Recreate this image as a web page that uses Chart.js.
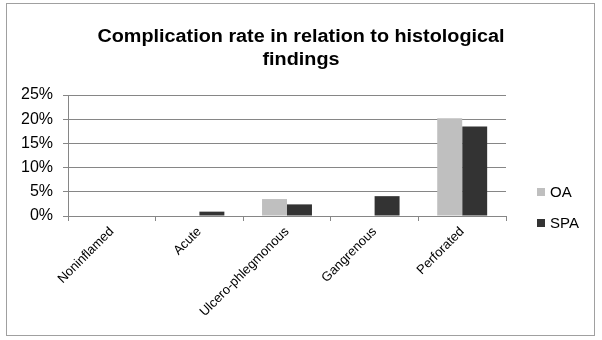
<!DOCTYPE html>
<html>
<head>
<meta charset="utf-8">
<script src="https://cdn.jsdelivr.net/npm/chart.js@4/dist/chart.umd.min.js"></script>
<style>
  html, body { margin: 0; padding: 0; background: #ffffff; }
  #wrap { width: 602px; height: 340px; }
</style>
</head>
<body>
<div id="wrap"><canvas id="c" width="602" height="340"></canvas></div>
<script>
// Histological categories and complication rates (%)
const categories = ['Noninflamed', 'Acute', 'Ulcero-phlegmonous', 'Gangrenous', 'Perforated'];
const oaRates = [0, 0, 3.5, 0, 20.2];
const spaRates = [0, 0.9, 2.4, 4.1, 18.5];
const seriesNames = ['OA', 'SPA'];
const titleLines = ['Complication rate in relation to histological', 'findings'];
const yTicks = [0, 5, 10, 15, 20, 25];

const FONT = '"Liberation Sans", Arial, sans-serif';

// Frame around the whole chart plus the two-line heading
const framePlugin = {
  id: 'frame',
  beforeDraw(chart) {
    const ctx = chart.ctx;
    ctx.save();
    ctx.fillStyle = '#ffffff';
    ctx.fillRect(0, 0, chart.width, chart.height);
    ctx.strokeStyle = '#a0a0a0';
    ctx.lineWidth = 1;
    ctx.strokeRect(6.5, 3.5, 588, 332);
    ctx.restore();
  },
  afterDraw(chart) {
    const ctx = chart.ctx;
    ctx.save();
    ctx.fillStyle = '#000000';
    ctx.font = 'bold 18px ' + FONT;
    ctx.textAlign = 'center';
    ctx.textBaseline = 'middle';
    const ys = [37, 60];
    titleLines.forEach((line, i) => {
      ctx.save();
      ctx.translate(301, ys[i]);
      ctx.scale(1.1, 1);
      ctx.fillText(line, 0, 0);
      ctx.restore();
    });
    ctx.restore();
  }
};

// Legend drawn to the right of the plot
const legendPlugin = {
  id: 'sideLegend',
  afterDraw(chart) {
    const ctx = chart.ctx;
    ctx.save();
    ctx.font = '15px ' + FONT;
    ctx.textBaseline = 'middle';
    ctx.textAlign = 'left';
    const ys = [192, 223];
    chart.data.datasets.forEach((ds, i) => {
      ctx.fillStyle = ds.backgroundColor;
      ctx.fillRect(537, ys[i] - 4, 8, 8);
      ctx.fillStyle = '#000000';
      ctx.fillText(ds.label, 550, ys[i] + 0.5);
    });
    ctx.restore();
  }
};

new Chart(document.getElementById('c'), {
  type: 'bar',
  data: {
    labels: categories,
    datasets: [
      { label: seriesNames[0], data: oaRates, backgroundColor: '#bfbfbf', borderWidth: 0,
        categoryPercentage: 0.57, barPercentage: 1.0 },
      { label: seriesNames[1], data: spaRates, backgroundColor: '#333333', borderWidth: 0,
        categoryPercentage: 0.57, barPercentage: 1.0 }
    ]
  },
  options: {
    responsive: false,
    animation: false,
    devicePixelRatio: 1,
    layout: { padding: { top: 95, right: 96, bottom: 0, left: 0 } },
    plugins: {
      legend: { display: false },
      title: { display: false },
      tooltip: { enabled: false }
    },
    scales: {
      x: {
        afterFit(scale) { scale.height = 124; },
        grid: {
          offset: true,
          drawOnChartArea: false,
          drawTicks: true,
          tickLength: 5,
          color: '#868686'
        },
        border: { color: '#868686', width: 1 },
        ticks: {
          maxRotation: 45,
          minRotation: 45,
          autoSkip: false,
          padding: 3,
          color: '#000000',
          font: { family: FONT, size: 13 }
        }
      },
      y: {
        min: 0,
        max: 25,
        afterFit(scale) { scale.width = 68; },
        afterBuildTicks(scale) { scale.ticks = yTicks.map(v => ({ value: v })); },
        grid: {
          color: '#868686',
          tickLength: 5,
          drawTicks: true
        },
        border: { color: '#868686', width: 1 },
        ticks: {
          stepSize: 5,
          padding: 10,
          color: '#000000',
          font: { family: FONT, size: 16 },
          callback: v => v + '%'
        }
      }
    }
  },
  plugins: [framePlugin, legendPlugin]
});
</script>
</body>
</html>
